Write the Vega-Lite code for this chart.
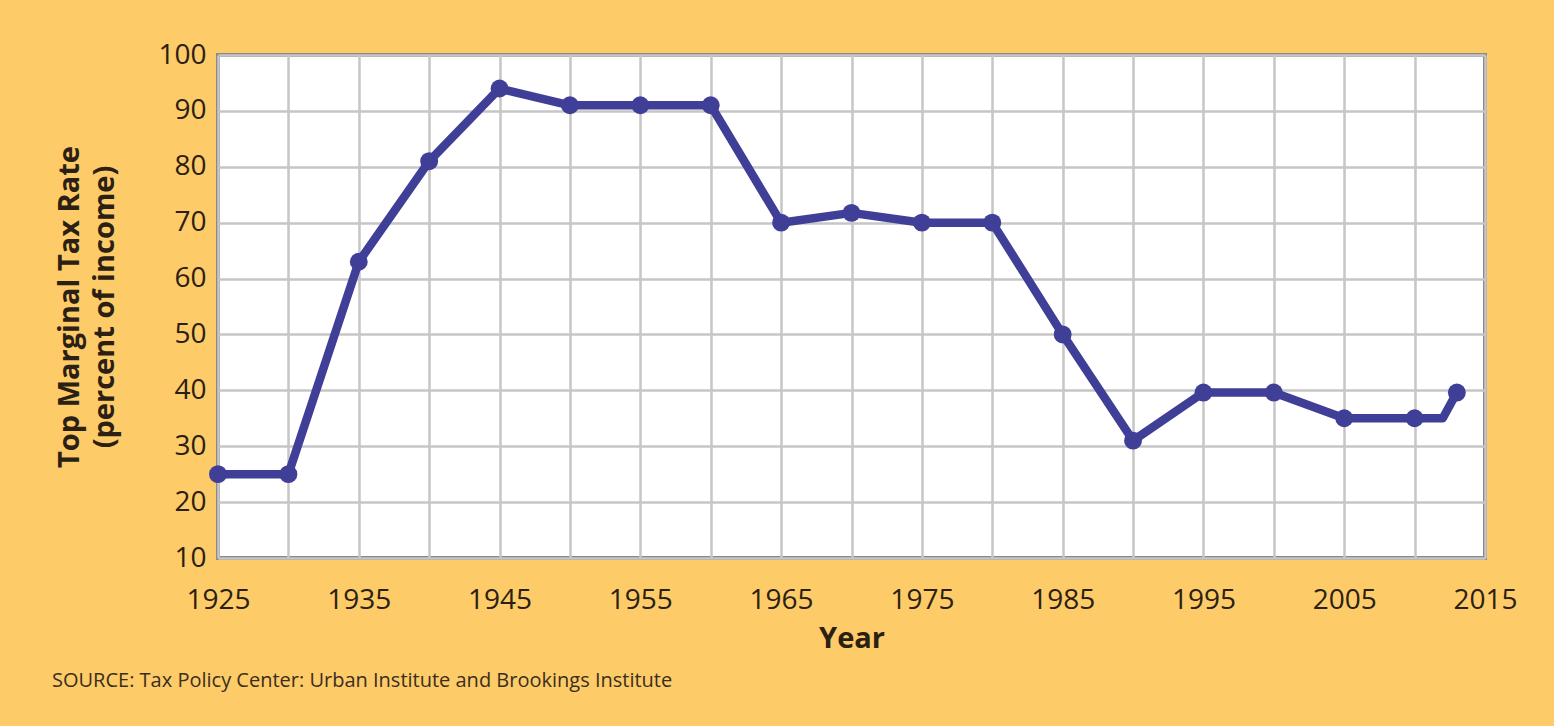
{
  "$schema": "https://vega.github.io/schema/vega-lite/v6.json",
  "width": 1267,
  "height": 503,
  "autosize": {"type": "none"},
  "padding": {"left": 218, "top": 55, "right": 69, "bottom": 168},
  "background": "#FDCB68",
  "title": {
    "text": "SOURCE: Tax Policy Center: Urban Institute and Brookings Institute",
    "orient": "bottom",
    "anchor": "start",
    "frame": "group",
    "dx": -166,
    "offset": 18,
    "font": "Open Sans",
    "fontSize": 20,
    "fontWeight": "normal",
    "color": "#3a2e1e"
  },
  "config": {
    "view": {"stroke": "#8a8a8a", "strokeWidth": 4, "fill": "white"},
    "axis": {
      "domain": false,
      "ticks": false,
      "gridColor": "#c6c6c6",
      "gridWidth": 2.5,
      "gridOpacity": 1,
      "labelFont": "Open Sans",
      "labelFontSize": 28,
      "labelColor": "#2b2013",
      "titleFont": "Open Sans",
      "titleFontWeight": "bold",
      "titleColor": "#2b2013"
    }
  },
  "data": {
    "values": [
      {"year": 1925, "rate": 25},
      {"year": 1930, "rate": 25},
      {"year": 1935, "rate": 63},
      {"year": 1940, "rate": 81},
      {"year": 1945, "rate": 94},
      {"year": 1950, "rate": 91},
      {"year": 1955, "rate": 91},
      {"year": 1960, "rate": 91},
      {"year": 1965, "rate": 70},
      {"year": 1970, "rate": 71.75},
      {"year": 1975, "rate": 70},
      {"year": 1980, "rate": 70},
      {"year": 1985, "rate": 50},
      {"year": 1990, "rate": 31},
      {"year": 1995, "rate": 39.6},
      {"year": 2000, "rate": 39.6},
      {"year": 2005, "rate": 35},
      {"year": 2010, "rate": 35},
      {"year": 2012, "rate": 35},
      {"year": 2013, "rate": 39.6}
    ]
  },
  "encoding": {
    "x": {
      "field": "year",
      "type": "quantitative",
      "scale": {"domain": [1925, 2015], "nice": false, "zero": false},
      "axis": {
        "title": "Year",
        "titleFontSize": 29,
        "titlePadding": 10,
        "labelPadding": 28,
        "values": [1925, 1930, 1935, 1940, 1945, 1950, 1955, 1960, 1965, 1970, 1975, 1980, 1985, 1990, 1995, 2000, 2005, 2010, 2015],
        "format": "d",
        "labelExpr": "datum.value % 10 == 5 ? datum.label : ''",
        "labelFlush": false,
        "labelOverlap": false
      }
    },
    "y": {
      "field": "rate",
      "type": "quantitative",
      "scale": {"domain": [10, 100], "nice": false, "zero": false},
      "axis": {
        "title": ["Top Marginal Tax Rate", "(percent of income)"],
        "titleFontSize": 29,
        "titleLineHeight": 35,
        "titlePadding": 38,
        "labelPadding": 12,
        "values": [10, 20, 30, 40, 50, 60, 70, 80, 90, 100]
      }
    }
  },
  "layer": [
    {
      "mark": {"type": "line", "color": "#403F98", "strokeWidth": 8.5, "strokeJoin": "round", "strokeCap": "round"}
    },
    {
      "transform": [{"filter": "datum.year != 2012"}],
      "mark": {"type": "point", "filled": true, "color": "#403F98", "size": 320, "opacity": 1}
    }
  ]
}
